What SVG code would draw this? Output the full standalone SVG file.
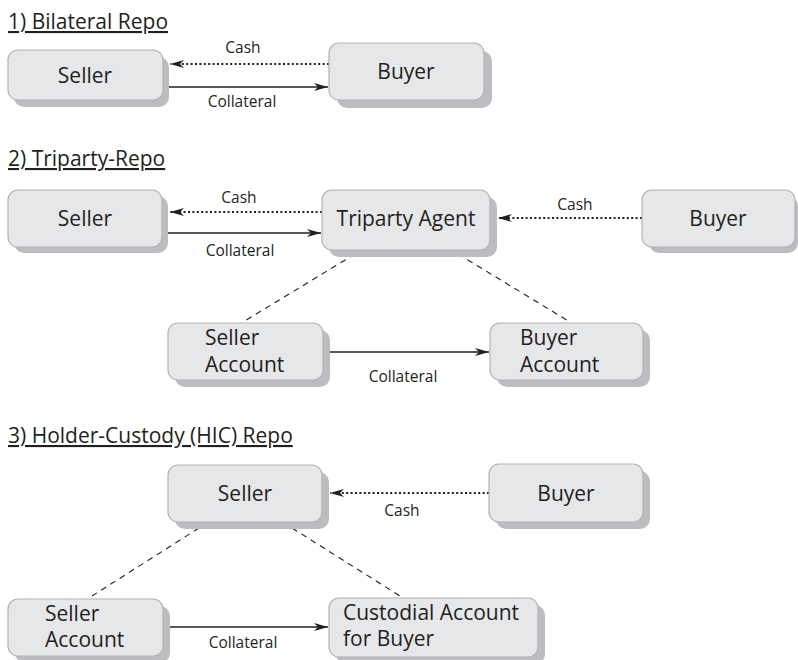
<svg xmlns="http://www.w3.org/2000/svg" width="798" height="660" viewBox="0 0 798 660">
<style>
text{font-family:"Open Sans","Liberation Sans",sans-serif;fill:#231f20}
.t{font-size:21px;text-decoration:underline}
.n{font-size:21px}
.c{text-anchor:middle}
.l{font-size:15.5px;text-anchor:middle}
.box{fill:#e6e7e9;stroke:#b2b3b5;stroke-width:1.2}
.sh{fill:#bcbdc0}
.solid{stroke:#231f20;stroke-width:1.6;fill:none;marker-end:url(#ah)}
.dot{stroke:#231f20;stroke-width:2;stroke-dasharray:2 2.4;fill:none;marker-end:url(#ah)}
.dash{stroke:#231f20;stroke-width:1.1;stroke-dasharray:6 5;fill:none}
</style>
<defs>
<marker id="ah" markerWidth="15" markerHeight="10" refX="14" refY="5" orient="auto" markerUnits="userSpaceOnUse"><path d="M0,1 L14,5 L0,9 L4,5 Z" fill="#231f20"/></marker>
</defs>

<g id="titles">
<text class="t" x="8" y="29">1) Bilateral Repo</text>
<text class="t" x="8" y="166">2) Triparty-Repo</text>
<text class="t" x="8" y="443">3) Holder-Custody (HIC) Repo</text>
</g>

<g id="connectors">
<line class="dot" x1="329" y1="64" x2="170" y2="64"/>
<text class="l" x="243" y="53">Cash</text>
<line class="solid" x1="163" y1="87" x2="328" y2="87"/>
<text class="l" x="242" y="107">Collateral</text>

<line class="dot" x1="322" y1="212" x2="170" y2="212"/>
<text class="l" x="239" y="203">Cash</text>
<line class="solid" x1="162" y1="233" x2="321" y2="233"/>
<text class="l" x="240" y="256">Collateral</text>
<line class="dot" x1="642" y1="218" x2="498" y2="218"/>
<text class="l" x="575" y="210">Cash</text>
<line class="dash" x1="355" y1="254" x2="243" y2="322"/>
<line class="dash" x1="458" y1="254" x2="570" y2="322"/>
<line class="solid" x1="323" y1="352" x2="489" y2="352"/>
<text class="l" x="403" y="382">Collateral</text>

<line class="dot" x1="489" y1="493" x2="330" y2="493"/>
<text class="l" x="402" y="516">Cash</text>
<line class="dash" x1="199" y1="528" x2="92" y2="596"/>
<line class="dash" x1="292" y1="528" x2="400" y2="596"/>
<line class="solid" x1="163" y1="627" x2="328" y2="627"/>
<text class="l" x="243" y="648">Collateral</text>
</g>

<g id="bilateral-seller">
<rect class="sh" x="14" y="57" width="155" height="50" rx="10"/>
<rect class="box" x="8" y="50" width="155" height="50" rx="10"/>
<text class="n c" x="85" y="83">Seller</text>
</g>
<g id="bilateral-buyer">
<rect class="sh" x="337" y="51" width="155" height="57" rx="10"/>
<rect class="box" x="329" y="43" width="155" height="57" rx="10"/>
<text class="n c" x="406" y="79">Buyer</text>
</g>

<g id="triparty-seller">
<rect class="sh" x="14" y="196" width="154" height="57" rx="10"/>
<rect class="box" x="8" y="190" width="154" height="57" rx="10"/>
<text class="n c" x="85" y="226">Seller</text>
</g>
<g id="triparty-agent">
<rect class="sh" x="329" y="197" width="168" height="60" rx="10"/>
<rect class="box" x="322" y="190" width="168" height="60" rx="10"/>
<text class="n c" x="406" y="226">Triparty Agent</text>
</g>
<g id="triparty-buyer">
<rect class="sh" x="649" y="196" width="149" height="57" rx="10"/>
<rect class="box" x="642" y="190" width="153" height="57" rx="10"/>
<text class="n c" x="718" y="226">Buyer</text>
</g>
<g id="triparty-seller-account">
<rect class="sh" x="175" y="330" width="155" height="57" rx="10"/>
<rect class="box" x="168" y="323" width="155" height="57" rx="10"/>
<text class="n" x="205" y="345">Seller</text>
<text class="n" x="205" y="372">Account</text>
</g>
<g id="triparty-buyer-account">
<rect class="sh" x="497" y="330" width="153" height="57" rx="10"/>
<rect class="box" x="490" y="323" width="153" height="57" rx="10"/>
<text class="n" x="520" y="345">Buyer</text>
<text class="n" x="520" y="372">Account</text>
</g>

<g id="hic-seller">
<rect class="sh" x="175" y="472" width="154" height="57" rx="10"/>
<rect class="box" x="168" y="465" width="154" height="57" rx="10"/>
<text class="n c" x="245" y="501">Seller</text>
</g>
<g id="hic-buyer">
<rect class="sh" x="496" y="471" width="154" height="58" rx="10"/>
<rect class="box" x="489" y="464" width="154" height="58" rx="10"/>
<text class="n c" x="566" y="501">Buyer</text>
</g>
<g id="hic-seller-account">
<rect class="sh" x="15" y="606" width="155" height="57" rx="10"/>
<rect class="box" x="8" y="599" width="155" height="57" rx="10"/>
<text class="n" x="45" y="621">Seller</text>
<text class="n" x="45" y="647">Account</text>
</g>
<g id="hic-custodial-account">
<rect class="sh" x="336" y="605" width="209" height="59" rx="10"/>
<rect class="box" x="329" y="598" width="209" height="59" rx="10"/>
<text class="n" x="343" y="620">Custodial Account</text>
<text class="n" x="343" y="646">for Buyer</text>
</g>
</svg>
